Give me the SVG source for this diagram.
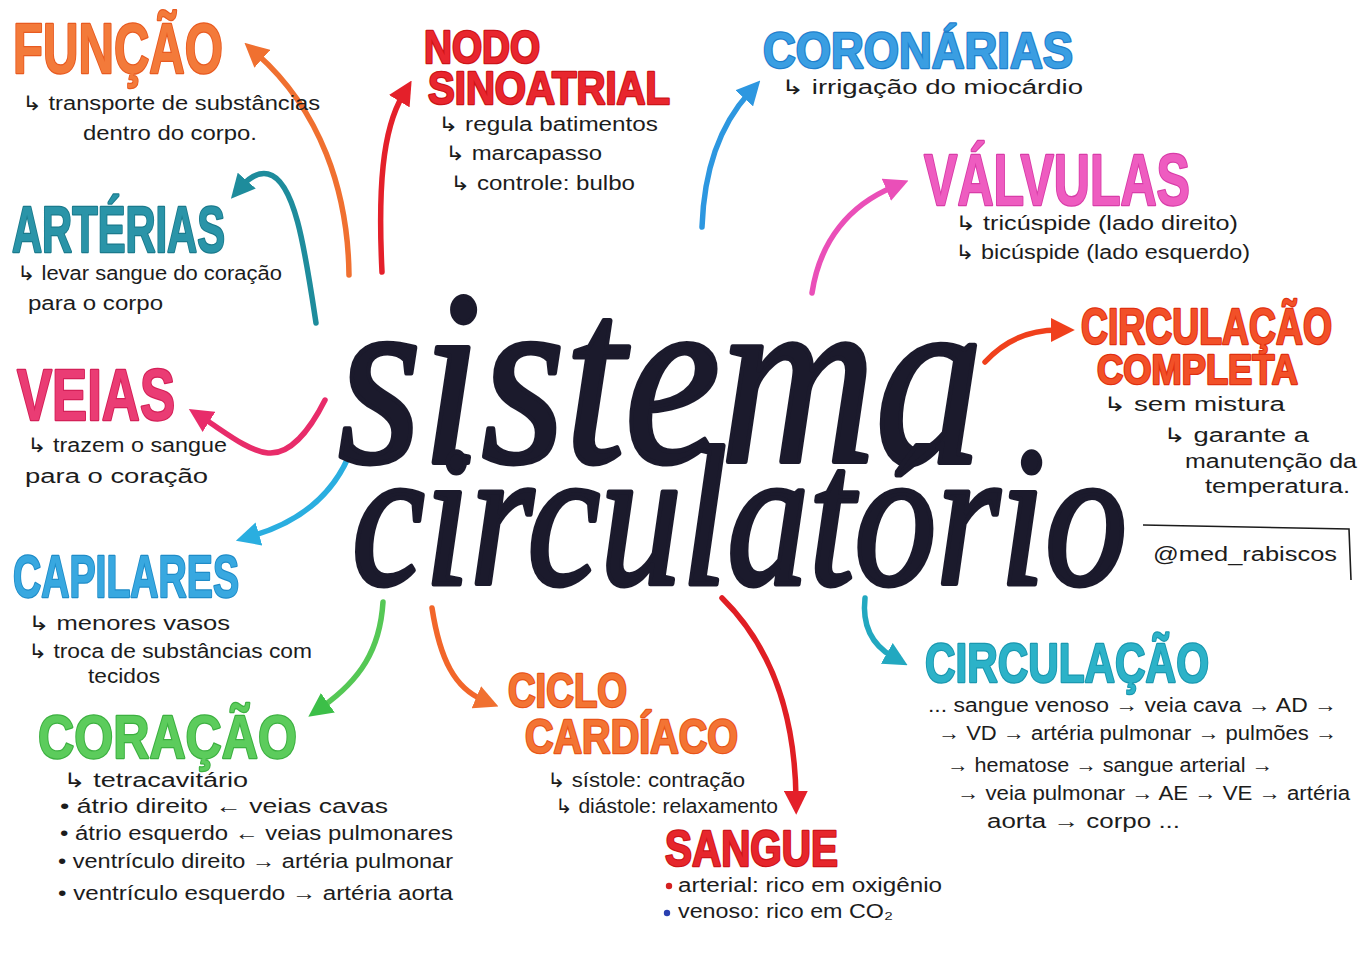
<svg xmlns="http://www.w3.org/2000/svg" width="1368" height="960" viewBox="0 0 1368 960">
<defs>
<style>
.h{font-family:"Liberation Sans","DejaVu Sans",sans-serif;font-weight:700;paint-order:stroke;stroke-width:2.5;stroke-linejoin:round}
.t{font-family:"Liberation Sans","DejaVu Sans",sans-serif;font-size:20px;fill:#1c1c1c}
.title{font-family:"Liberation Serif","DejaVu Serif",serif;font-style:italic;font-weight:400;fill:#1b1a2c;stroke:#1b1a2c;stroke-width:5;stroke-linejoin:round}
.c{fill:none;stroke-width:5.5;stroke-linecap:round}
</style>
<marker id="mOr" viewBox="0 0 10 10" refX="3" refY="5" markerWidth="24" markerHeight="24" markerUnits="userSpaceOnUse" orient="auto"><path d="M0,0 L10,5 L0,10 z" fill="#f07030"/></marker>
<marker id="mRd" viewBox="0 0 10 10" refX="3" refY="5" markerWidth="24" markerHeight="24" markerUnits="userSpaceOnUse" orient="auto"><path d="M0,0 L10,5 L0,10 z" fill="#e4202a"/></marker>
<marker id="mTl" viewBox="0 0 10 10" refX="3" refY="5" markerWidth="24" markerHeight="24" markerUnits="userSpaceOnUse" orient="auto"><path d="M0,0 L10,5 L0,10 z" fill="#1e8c9c"/></marker>
<marker id="mPk" viewBox="0 0 10 10" refX="3" refY="5" markerWidth="24" markerHeight="24" markerUnits="userSpaceOnUse" orient="auto"><path d="M0,0 L10,5 L0,10 z" fill="#e82c6a"/></marker>
<marker id="mBl" viewBox="0 0 10 10" refX="3" refY="5" markerWidth="24" markerHeight="24" markerUnits="userSpaceOnUse" orient="auto"><path d="M0,0 L10,5 L0,10 z" fill="#2aaee0"/></marker>
<marker id="mGr" viewBox="0 0 10 10" refX="3" refY="5" markerWidth="24" markerHeight="24" markerUnits="userSpaceOnUse" orient="auto"><path d="M0,0 L10,5 L0,10 z" fill="#3cbf48"/></marker>
<marker id="mTl2" viewBox="0 0 10 10" refX="3" refY="5" markerWidth="24" markerHeight="24" markerUnits="userSpaceOnUse" orient="auto"><path d="M0,0 L10,5 L0,10 z" fill="#22a8c0"/></marker>
<marker id="mRo" viewBox="0 0 10 10" refX="3" refY="5" markerWidth="24" markerHeight="24" markerUnits="userSpaceOnUse" orient="auto"><path d="M0,0 L10,5 L0,10 z" fill="#f0401c"/></marker>
<marker id="mMg" viewBox="0 0 10 10" refX="3" refY="5" markerWidth="24" markerHeight="24" markerUnits="userSpaceOnUse" orient="auto"><path d="M0,0 L10,5 L0,10 z" fill="#ea4fb8"/></marker>
<marker id="mCb" viewBox="0 0 10 10" refX="3" refY="5" markerWidth="24" markerHeight="24" markerUnits="userSpaceOnUse" orient="auto"><path d="M0,0 L10,5 L0,10 z" fill="#2d97e0"/></marker>
</defs>
<rect width="1368" height="960" fill="#ffffff"/>

<g id="connectors">
<path class="c" stroke="#f07030" marker-end="url(#mOr)" d="M349 275 C348 190 320 110 257 54"/>
<path class="c" stroke="#e4202a" marker-end="url(#mRd)" d="M382 272 C378 190 382 130 403 95"/>
<path class="c" stroke="#1e8c9c" marker-end="url(#mTl)" d="M316 323 C305 250 295 180 268 174 C258 172 249 178 242 186"/>
<path class="c" stroke="#e82c6a" marker-end="url(#mPk)" d="M325 400 C310 430 290 455 268 453 C248 451 225 432 203 418"/>
<path class="c" stroke="#2aaee0" marker-end="url(#mBl)" d="M352 448 C335 495 300 522 252 536"/>
<path class="c" stroke="#55c855" marker-end="url(#mGr)" d="M383 602 C380 650 360 680 322 707"/>
<path class="c" stroke="#f2662a" marker-end="url(#mOr)" d="M432 608 C440 660 455 688 483 700"/>
<path class="c" stroke="#e01e24" marker-end="url(#mRd)" d="M722 598 C775 650 795 720 796 798"/>
<path class="c" stroke="#22a8c0" marker-end="url(#mTl2)" d="M865 598 C862 625 872 645 893 657"/>
<path class="c" stroke="#f0401c" marker-end="url(#mRo)" d="M985 362 C1005 340 1030 330 1058 330"/>
<path class="c" stroke="#ea4fb8" marker-end="url(#mMg)" d="M812 293 C820 240 850 205 893 187"/>
<path class="c" stroke="#2d97e0" marker-end="url(#mCb)" d="M702 227 C704 170 720 125 749 93"/>
</g>

<g id="title">
<text class="title" x="338" y="462" font-size="250" textLength="645" lengthAdjust="spacingAndGlyphs">sistema</text>
<text class="title" x="352" y="584" font-size="200" textLength="775" lengthAdjust="spacingAndGlyphs">circulatório</text>
</g>

<g id="funcao">
<text class="h" x="13" y="73" font-size="70" textLength="210" lengthAdjust="spacingAndGlyphs" fill="#f37a3a" stroke="#e85a20">FUNÇÃO</text>
<text class="t" x="22" y="110" textLength="298" lengthAdjust="spacingAndGlyphs">↳ transporte de substâncias</text>
<text class="t" x="83" y="140" textLength="174" lengthAdjust="spacingAndGlyphs">dentro do corpo.</text>
</g>

<g id="arterias">
<text class="h" x="12" y="252" font-size="64" textLength="213" lengthAdjust="spacingAndGlyphs" fill="#2a94a8" stroke="#1a7a8c">ARTÉRIAS</text>
<text class="t" x="17" y="280" textLength="265" lengthAdjust="spacingAndGlyphs">↳ levar sangue do coração</text>
<text class="t" x="28" y="310" textLength="135" lengthAdjust="spacingAndGlyphs">para o corpo</text>
</g>

<g id="veias">
<text class="h" x="17" y="420" font-size="72" textLength="158" lengthAdjust="spacingAndGlyphs" fill="#ea3c74" stroke="#d42058">VEIAS</text>
<text class="t" x="27" y="452" textLength="200" lengthAdjust="spacingAndGlyphs">↳ trazem o sangue</text>
<text class="t" x="25" y="483" textLength="183" lengthAdjust="spacingAndGlyphs">para o coração</text>
</g>

<g id="capilares">
<text class="h" x="13" y="597" font-size="60" textLength="226" lengthAdjust="spacingAndGlyphs" fill="#38a8e0" stroke="#1f8cc8">CAPILARES</text>
<text class="t" x="28" y="630" textLength="202" lengthAdjust="spacingAndGlyphs">↳ menores vasos</text>
<text class="t" x="28" y="658" textLength="284" lengthAdjust="spacingAndGlyphs">↳ troca de substâncias com</text>
<text class="t" x="88" y="683" textLength="72" lengthAdjust="spacingAndGlyphs">tecidos</text>
</g>

<g id="coracao">
<text class="h" x="38" y="758" font-size="62" textLength="259" lengthAdjust="spacingAndGlyphs" fill="#5ccc5c" stroke="#3cb040">CORAÇÃO</text>
<text class="t" x="63" y="787" textLength="185" lengthAdjust="spacingAndGlyphs">↳ tetracavitário</text>
<text class="t" x="60" y="813" textLength="328" lengthAdjust="spacingAndGlyphs">• átrio direito ← veias cavas</text>
<text class="t" x="60" y="840" textLength="393" lengthAdjust="spacingAndGlyphs">• átrio esquerdo ← veias pulmonares</text>
<text class="t" x="58" y="868" textLength="395" lengthAdjust="spacingAndGlyphs">• ventrículo direito → artéria pulmonar</text>
<text class="t" x="58" y="900" textLength="395" lengthAdjust="spacingAndGlyphs">• ventrículo esquerdo → artéria aorta</text>
</g>

<g id="nodo">
<text class="h" x="424" y="63" font-size="46" textLength="116" lengthAdjust="spacingAndGlyphs" fill="#e8262e" stroke="#cc1418">NODO</text>
<text class="h" x="428" y="104" font-size="46" textLength="242" lengthAdjust="spacingAndGlyphs" fill="#e8262e" stroke="#cc1418">SINOATRIAL</text>
<text class="t" x="438" y="131" textLength="220" lengthAdjust="spacingAndGlyphs">↳ regula batimentos</text>
<text class="t" x="445" y="160" textLength="157" lengthAdjust="spacingAndGlyphs">↳ marcapasso</text>
<text class="t" x="450" y="190" textLength="185" lengthAdjust="spacingAndGlyphs">↳ controle: bulbo</text>
</g>

<g id="coronarias">
<text class="h" x="763" y="68" font-size="50" textLength="310" lengthAdjust="spacingAndGlyphs" fill="#3a9ee2" stroke="#1f80cc">CORONÁRIAS</text>
<text class="t" x="781" y="94" textLength="302" lengthAdjust="spacingAndGlyphs">↳ irrigação do miocárdio</text>
</g>

<g id="valvulas">
<text class="h" x="924" y="205" font-size="72" textLength="266" lengthAdjust="spacingAndGlyphs" fill="#ee5cc0" stroke="#d83ca8">VÁLVULAS</text>
<text class="t" x="955" y="230" textLength="283" lengthAdjust="spacingAndGlyphs">↳ tricúspide (lado direito)</text>
<text class="t" x="955" y="259" textLength="295" lengthAdjust="spacingAndGlyphs">↳ bicúspide (lado esquerdo)</text>
</g>

<g id="circulacao-completa">
<text class="h" x="1081" y="344" font-size="50" textLength="251" lengthAdjust="spacingAndGlyphs" fill="#f25028" stroke="#e03010">CIRCULAÇÃO</text>
<text class="h" x="1097" y="384" font-size="42" textLength="201" lengthAdjust="spacingAndGlyphs" fill="#f25028" stroke="#e03010">COMPLETA</text>
<text class="t" x="1103" y="411" textLength="182" lengthAdjust="spacingAndGlyphs">↳ sem mistura</text>
<text class="t" x="1163" y="442" textLength="146" lengthAdjust="spacingAndGlyphs">↳ garante a</text>
<text class="t" x="1185" y="468" font-size="19" textLength="172" lengthAdjust="spacingAndGlyphs">manutenção da</text>
<text class="t" x="1205" y="493" font-size="19" textLength="145" lengthAdjust="spacingAndGlyphs">temperatura.</text>
</g>

<g id="assinatura">
<path d="M1143 525 L1349 529 L1351 580" fill="none" stroke="#1c1c1c" stroke-width="1.6"/>
<text class="t" x="1153" y="561" textLength="184" lengthAdjust="spacingAndGlyphs">@med_rabiscos</text>
</g>

<g id="circulacao">
<text class="h" x="925" y="682" font-size="56" textLength="284" lengthAdjust="spacingAndGlyphs" fill="#2cb2c8" stroke="#1a98b0">CIRCULAÇÃO</text>
<text class="t" x="928" y="712" textLength="409" lengthAdjust="spacingAndGlyphs">... sangue venoso → veia cava → AD →</text>
<text class="t" x="938" y="740" textLength="399" lengthAdjust="spacingAndGlyphs">→ VD → artéria pulmonar → pulmões →</text>
<text class="t" x="947" y="772" textLength="326" lengthAdjust="spacingAndGlyphs">→ hematose → sangue arterial →</text>
<text class="t" x="957" y="800" textLength="393" lengthAdjust="spacingAndGlyphs">→ veia pulmonar → AE → VE → artéria</text>
<text class="t" x="987" y="828" textLength="193" lengthAdjust="spacingAndGlyphs">aorta → corpo ...</text>
</g>

<g id="ciclo-cardiaco">
<text class="h" x="508" y="707" font-size="48" textLength="119" lengthAdjust="spacingAndGlyphs" fill="#f37434" stroke="#e85418">CICLO</text>
<text class="h" x="525" y="753" font-size="48" textLength="213" lengthAdjust="spacingAndGlyphs" fill="#f37434" stroke="#e85418">CARDÍACO</text>
<text class="t" x="547" y="787" textLength="198" lengthAdjust="spacingAndGlyphs">↳ sístole: contração</text>
<text class="t" x="555" y="813" textLength="223" lengthAdjust="spacingAndGlyphs">↳ diástole: relaxamento</text>
</g>

<g id="sangue">
<text class="h" x="665" y="866" font-size="50" textLength="173" lengthAdjust="spacingAndGlyphs" fill="#e6262c" stroke="#cc1418">SANGUE</text>
<circle cx="669" cy="886" r="3.2" fill="#d42020"/>
<text class="t" x="678" y="892" textLength="264" lengthAdjust="spacingAndGlyphs">arterial: rico em oxigênio</text>
<circle cx="667" cy="913" r="3.2" fill="#2a40b0"/>
<text class="t" x="678" y="918" textLength="215" lengthAdjust="spacingAndGlyphs">venoso: rico em CO₂</text>
</g>
</svg>
